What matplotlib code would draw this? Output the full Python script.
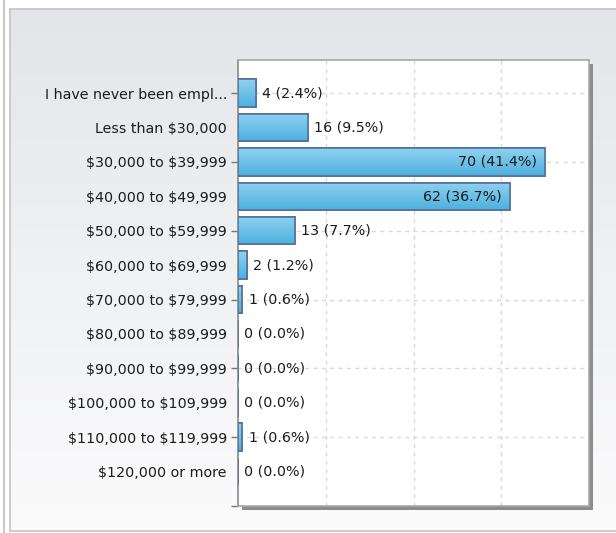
import numpy as np
import matplotlib
matplotlib.use("Agg")
import matplotlib.pyplot as plt
from matplotlib.patches import Rectangle

categories = [
    "I have never been empl...",
    "Less than $30,000",
    "$30,000 to $39,999",
    "$40,000 to $49,999",
    "$50,000 to $59,999",
    "$60,000 to $69,999",
    "$70,000 to $79,999",
    "$80,000 to $89,999",
    "$90,000 to $99,999",
    "$100,000 to $109,999",
    "$110,000 to $119,999",
    "$120,000 or more",
]
counts = [4, 16, 70, 62, 13, 2, 1, 0, 0, 0, 1, 0]
percents = [2.4, 9.5, 41.4, 36.7, 7.7, 1.2, 0.6, 0.0, 0.0, 0.0, 0.6, 0.0]

plt.rcParams["font.family"] = ["DejaVu Sans"]
plt.rcParams["text.parse_math"] = False
FS = 10.3

W, H = 616, 533
fig = plt.figure(figsize=(W / 100, H / 100), dpi=100)
fig.patch.set_facecolor("white")

# outer gray panel with vertical gradient
bg = fig.add_axes([10 / W, 2 / H, 1 - 10 / W, 1 - 11 / H], zorder=-2)
grad = np.linspace(0, 1, 256).reshape(-1, 1)
bg.imshow(grad, aspect="auto", cmap=matplotlib.colors.LinearSegmentedColormap.from_list(
    "panel", ["#e4e5e9", "#f0f1f3", "#fbfbfc"]), extent=[0, 1, 0, 1])
bg.set_xticks([]); bg.set_yticks([])
for s in bg.spines.values():
    s.set_color("#c4c4c4")
    s.set_linewidth(1.2)
bg.spines["right"].set_visible(False)
fig.add_artist(plt.Line2D([3.5 / W, 3.5 / W], [0, 1], color="#c8c8c8", lw=1.5))

# plot area
left, right, top, bottom = 238, 589, 60, 506
ax_rect = [left / W, 1 - bottom / H, (right - left) / W, (bottom - top) / H]
shadow = Rectangle((ax_rect[0] + 4 / W, ax_rect[1] - 4 / H), ax_rect[2], ax_rect[3],
                   transform=fig.transFigure, facecolor="#8c8c8c", edgecolor="none", zorder=-1)
fig.add_artist(shadow)
ax = fig.add_axes(ax_rect)
ax.set_facecolor("white")

y = np.arange(len(categories))
bars = ax.barh(y, counts, height=0.8, color="#6cc4ea", edgecolor="#56709a", linewidth=1.2, zorder=3)

# gradient fill on each bar
bar_cmap = matplotlib.colors.LinearSegmentedColormap.from_list("bar", ["#8fd2f0", "#4db0de"])
for b in bars:
    if b.get_width() <= 0:
        continue
    x0, y0 = b.get_x(), b.get_y()
    im = ax.imshow(grad, aspect="auto", cmap=bar_cmap, zorder=3.5,
                   extent=[x0, x0 + b.get_width(), y0 + b.get_height(), y0])
    im.set_clip_path(b)
    edge = Rectangle((x0, y0), b.get_width(), b.get_height(), fill=False,
                     edgecolor="#56709a", linewidth=1.2, zorder=4)
    ax.add_patch(edge)

ax.set_xlim(0, 80)
ax.set_ylim(12, -0.96)
ax.set_xticks([20, 40, 60])
ax.set_xticklabels([])
ax.tick_params(axis="x", length=0)
ax.set_yticks(y)
ax.set_yticklabels(categories, fontsize=FS, color="#1c1c1c")
ax.set_yticks([12], minor=True)
ax.tick_params(axis="y", which="both", length=5, color="#777777", width=1, pad=3)
# tick marks only on every other row
for i, t in enumerate(ax.yaxis.get_major_ticks()):
    if i % 2:
        t.tick1line.set_visible(False)
ax.grid(axis="x", linestyle=(0, (3, 3)), color="#dadada", linewidth=1, zorder=0)
for yy in np.arange(0, 12, 2):
    ax.axhline(yy, linestyle=(0, (3, 3)), color="#dadada", linewidth=1, zorder=0)

for s in ["top", "right", "bottom"]:
    ax.spines[s].set_color("#a8a8a8")
    ax.spines[s].set_linewidth(1.2)
ax.spines["left"].set_color("#8a8a8a")
ax.spines["left"].set_linewidth(1.2)

for yi, c, p in zip(y, counts, percents):
    label = f"{c} ({p:.1f}%)"
    if c > 40:
        ax.annotate(label, (c, yi), xytext=(-6, 0), textcoords="offset points",
                    ha="right", va="center", fontsize=FS, color="#1c1c1c", zorder=5)
    else:
        ax.annotate(label, (c, yi), xytext=(4.5, 0), textcoords="offset points",
                    ha="left", va="center", fontsize=FS, color="#1c1c1c", zorder=5)

fig.savefig("out.png", dpi=100)
